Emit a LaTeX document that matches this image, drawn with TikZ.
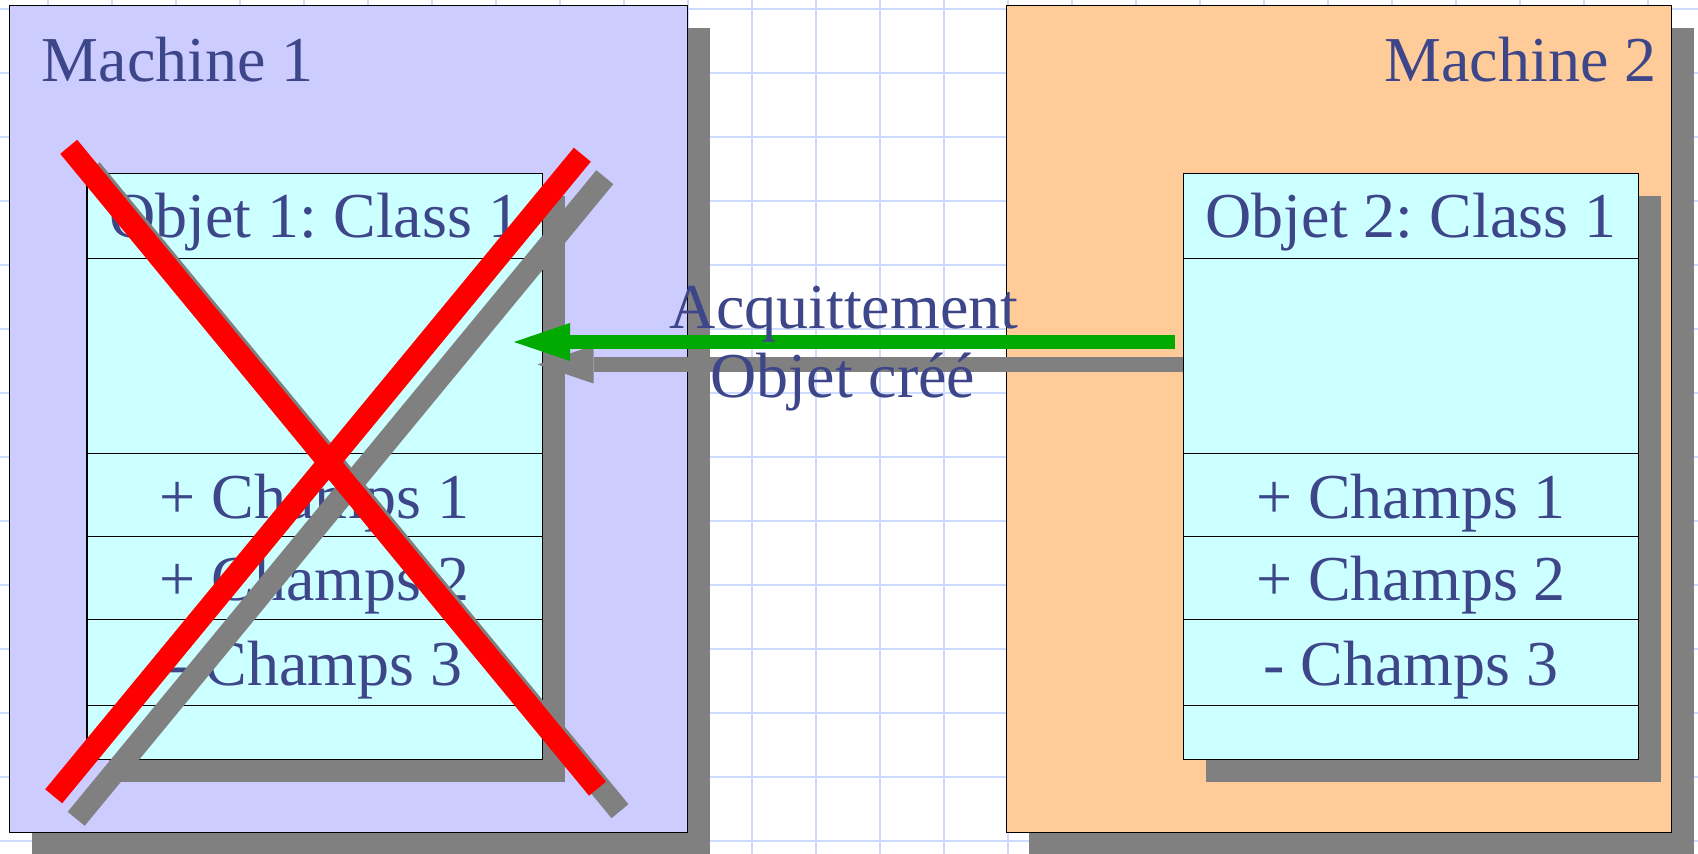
\documentclass[tikz,border=0pt]{standalone}
\usepackage{fontspec}
\setmainfont{Liberation Serif}
\usetikzlibrary{arrows.meta,shadows}
\definecolor{gridblue}{RGB}{206,218,255}
\definecolor{lav}{RGB}{204,204,255}
\definecolor{peach}{RGB}{255,204,153}
\definecolor{cyanbox}{RGB}{204,255,255}
\definecolor{shadowgray}{RGB}{128,128,128}
\definecolor{txtblue}{RGB}{62,70,138}
\definecolor{ackgreen}{RGB}{0,170,0}
\frenchspacing
\begin{document}
\begin{tikzpicture}[x=0.5pt,y=-0.5pt,
  gridline/.style={draw=gridblue,line width=0.9pt},
  boxshadow/.style={drop shadow={shadow xshift=11.25pt,shadow yshift=-11.25pt,fill=shadowgray,opacity=1}},
  machine/.style={draw=black,line width=0.5pt,inner sep=0pt,outer sep=0pt,
     minimum height=413.5pt,boxshadow},
  classbox/.style={draw=black,line width=0.6pt,fill=cyanbox,inner sep=0pt,outer sep=0pt,
     minimum width=227.7pt,minimum height=292.9pt,boxshadow},
  rowline/.style={draw=black,line width=0.5pt},
  lbl/.style={text=txtblue,inner sep=0pt,outer sep=0pt,font=\fontsize{32}{38}\selectfont},
  crossred/.style={draw=red,line width=11pt,line cap=butt},
  crossshadow/.style={draw=shadowgray,line width=11pt,line cap=butt},
  msgarrow/.style={line width=7.2pt,-{Triangle[length=28pt,width=19pt,line width=0pt]}}
]
\useasboundingbox (0,0) rectangle (1698,854);
\clip (0,0) rectangle (1698,854);
\fill[white] (0,0) rectangle (1698,854);
\foreach \x in {48,112,...,1648} \draw[gridline] (\x,0) -- (\x,854);
\foreach \y in {9,73,...,841} \draw[gridline] (0,\y) -- (1698,\y);

% machines
\node[machine,fill=lav,minimum width=339pt] (m1) at (348.5,419.5) {};
\node[machine,fill=peach,minimum width=332.25pt] (m2) at (1338.75,419.5) {};
\node[lbl,anchor=base west] (m1lbl) at (41.7,81.7) {Machine 1};
\node[lbl,anchor=base east] (m2lbl) at (1656.5,82) {Machine 2};

% class boxes
\node[classbox] (o1) at (314.65,466.4) {};
\node[classbox] (o2) at (1411,466.4) {};
\foreach \y in {259,453.7,536.7,620,705.3} {
  \draw[rowline] (87,\y) -- (542.3,\y);
  \draw[rowline] (1183.3,\y) -- (1638.7,\y);
}
\node[lbl,anchor=base] (o1h) at (314.65,238) {Objet 1: Class 1};
\node[lbl,anchor=base] (o1c1) at (314.65,519) {+ Champs 1};
\node[lbl,anchor=base] (o1c2) at (314.65,601) {+ Champs 2};
\node[lbl,anchor=base] (o1c3) at (314.65,686) {- Champs 3};
\node[lbl,anchor=base] (o2h) at (1411,238) {Objet 2: Class 1};
\node[lbl,anchor=base] (o2c1) at (1411,519) {+ Champs 1};
\node[lbl,anchor=base] (o2c2) at (1411,601) {+ Champs 2};
\node[lbl,anchor=base] (o2c3) at (1411,686) {- Champs 3};

% red cross
\coordinate (xa1) at (68.7,146.8);
\coordinate (xb1) at (597.5,788.7);
\coordinate (xa2) at (53.7,796.3);
\coordinate (xb2) at (582.3,154.7);
\draw[crossshadow] ([shift={(22.5,22.5)}]xa1) -- ([shift={(22.5,22.5)}]xb1);
\draw[crossshadow] ([shift={(22.5,22.5)}]xa2) -- ([shift={(22.5,22.5)}]xb2);
\draw[crossred] (xa1) -- (xb1);
\draw[crossred] (xa2) -- (xb2);

% message arrow
\coordinate (shS) at (o2.west |- 0,364.5);
\coordinate (shE) at (537.5,364.5);
\coordinate (ackS) at (1174.7,342);
\coordinate (ackE) at (514,342);
\draw[msgarrow,shadowgray] (shS) -- (shE);
\draw[msgarrow,ackgreen] (ackS) -- (ackE);
\node[lbl,anchor=base] (ack) at (844,329) {Acquittement};
\node[lbl,anchor=base] (cree) at (843,398) {Objet créé};
\end{tikzpicture}
\end{document}
